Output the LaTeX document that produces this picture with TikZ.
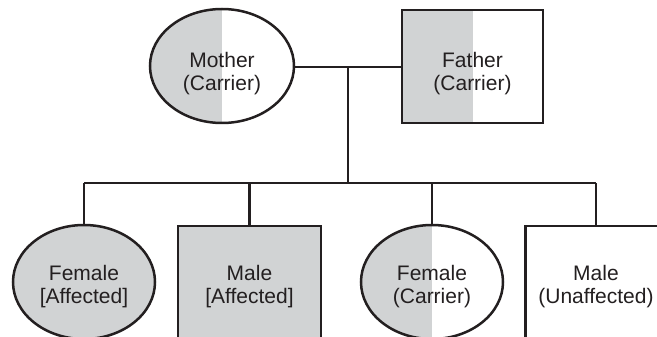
\documentclass[tikz,border=0pt]{standalone}
\usepackage{fontspec}
\setmainfont{Liberation Sans}
\usetikzlibrary{shapes.geometric}
\definecolor{ink}{HTML}{231F20}
\definecolor{shadegray}{HTML}{D1D3D4}
\newcommand{\twolines}[3]{\raisebox{#1}[\height][\depth]{\begin{tabular}{@{}c@{}}#2\\\relax#3\end{tabular}}}
\tikzset{
  person/.style={draw=ink, line width=2.5pt, inner sep=0pt, font=\fontsize{21}{23}\selectfont,
    text=ink, align=center},
  female/.style={person, ellipse, minimum width=142pt, minimum height=114pt},
  male/.style={person, rectangle, minimum width=141pt, minimum height=113pt},
  halfshade/.style={path picture={\fill[shadegray] (path picture bounding box.south west) rectangle (path picture bounding box.north);}},
  fullshade/.style={fill=shadegray},
  link/.style={draw=ink, line width=2.5pt}
}
\begin{document}
\begin{tikzpicture}[x=1pt, y=-1pt]
\useasboundingbox (0,0) rectangle (657,337);
\clip (0,0) rectangle (657,337);
\node[female, halfshade, minimum width=144pt] (mother) at (222,66) {\twolines{-8pt}{Mother}{(Carrier)}};
\node[male, halfshade] (father) at (472.5,66.5) {\twolines{-8pt}{Father}{(Carrier)}};
\coordinate (split) at (348,67);
\coordinate (sib) at (348,183);
\node[female, fullshade] (c1) at (84,282) {\twolines{-5pt}{Female}{[Affected]}};
\node[male, fullshade, minimum width=143pt] (c2) at (249.5,282.5) {\twolines{-5pt}{Male}{[Affected]}};
\node[female, halfshade] (c3) at (432,282) {\twolines{-5pt}{Female}{(Carrier)}};
\node[male] (c4) at (596,282.5) {\twolines{-5pt}{Male}{(Unaffected)}};
\draw[link] (mother.east |- split) -- (father.west |- split);
\draw[link] (split) -- (sib);
\draw[link] (c1.north |- sib) -- (c4.north |- sib);
\draw[link] (c1.north |- sib) -- (c1.north);
\draw[link] (c2.north |- sib) -- (c2.north);
\draw[link] (c3.north |- sib) -- (c3.north);
\draw[link] (c4.north |- sib) -- (c4.north);
\end{tikzpicture}
\end{document}
